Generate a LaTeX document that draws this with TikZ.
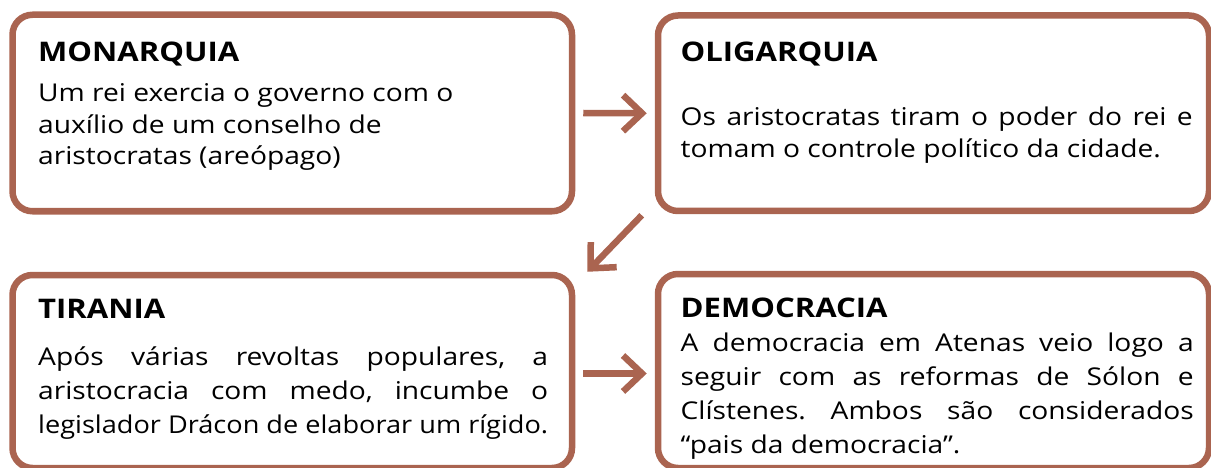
\documentclass[tikz,border=0pt]{standalone}
\usepackage{fontspec}
\setmainfont{Open Sans}[FakeStretch=1.15]
\usetikzlibrary{arrows.meta,calc}
\definecolor{brn}{HTML}{AA6450}
\frenchspacing

\begin{document}
\begin{tikzpicture}[x=1pt,y=-1pt,
    box/.style={rectangle,draw=brn,line width=6.5pt,rounded corners=20pt},
    title/.style={anchor=base west,inner sep=0pt,font=\fontsize{27}{32}\selectfont\bfseries},
    body/.style={anchor=base west,inner sep=0pt,align=left,font=\fontsize{24.5}{31.5}\selectfont},
    arr/.style={draw=brn,line width=6.5pt,-{Straight Barb[length=19pt,width=36pt]}},
]
\useasboundingbox (0,0) rectangle (1211,468);

\node[box,minimum width=559.5pt,minimum height=196.5pt] (monarquia) at (292.25,113) {};
\node[box,minimum width=551pt,minimum height=195.5pt] (oligarquia) at (933.5,113.25) {};
\node[box,minimum width=559.5pt,minimum height=193pt] (tirania) at (292.25,371.5) {};
\node[box,minimum width=551pt,minimum height=194pt] (democracia) at (933.5,371) {};

% text, anchored at the baseline of the last line
\node[title] (t-mon) at (38,62) {MONARQUIA};
\node[body] (b-mon) at (38,165) {Um rei exercia o governo com o\\auxílio de um conselho de\\aristocratas (areópago)};

\node[title] (t-oli) at (680.5,62) {OLIGARQUIA};
\node[body] (b-oli) at (680.5,157.3) {\makebox[512pt][s]{Os aristocratas tiram o poder do rei e}\\tomam o controle político da cidade.};

\node[title] (t-tir) at (38,318) {TIRANIA};
\node[body,font=\fontsize{24.5}{34}\selectfont] (b-tir) at (38,433) {\makebox[510pt][s]{Após várias revoltas populares, a}\\\makebox[510pt][s]{aristocracia com medo, incumbe o}\\\resizebox{510pt}{\height}{legislador Drácon de elaborar um rígido.}};

\node[title] (t-dem) at (680.5,317) {DEMOCRACIA};
\node[body,font=\fontsize{24.5}{34}\selectfont] (b-dem) at (680.5,453) {\makebox[513pt][s]{A democracia em Atenas veio logo a}\\\makebox[513pt][s]{seguir com as reformas de Sólon e}\\\makebox[513pt][s]{Clístenes. Ambos são considerados}\\“pais da democracia”.};

\draw[arr] ([xshift=8]monarquia.east) -- ([xshift=-8]oligarquia.west);
\draw[arr] ([shift={(-13,1)}]oligarquia.south west) -- ([shift={(12,0)}]tirania.north east);
\draw[arr] ([shift={(8,2)}]tirania.east) -- ([shift={(-8,2)}]tirania.east -| democracia.west);
\end{tikzpicture}
\end{document}
